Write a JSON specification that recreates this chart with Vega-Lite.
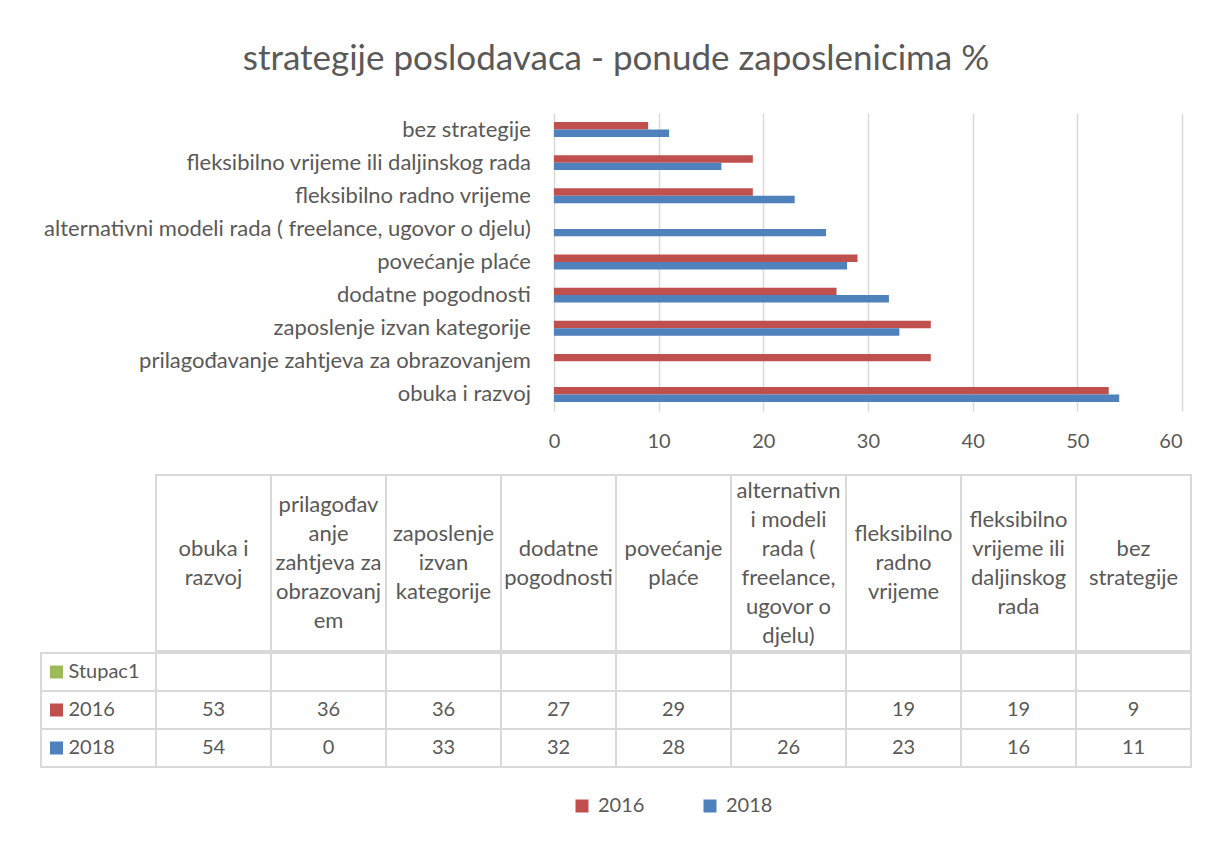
{
  "$schema": "https://vega.github.io/schema/vega-lite/v6.json",
  "padding": {"left": 40, "top": 42, "right": 19, "bottom": 40},
  "background": "white",
  "config": {"view": {"stroke": null}, "font": "Lato"},
  "title": {"text": "strategije poslodavaca - ponude zaposlenicima  %", "fontSize": 35, "font": "Lato", "fontWeight": "normal", "color": "#595959", "anchor": "middle", "offset": 36},
  "datasets": {
    "main": [
      {"cat": "obuka i razvoj", "year": "2016", "value": 53},
      {"cat": "obuka i razvoj", "year": "2018", "value": 54},
      {"cat": "obuka i razvoj", "year": "Stupac1", "value": null},
      {"cat": "prilagođavanje zahtjeva za obrazovanjem", "year": "2016", "value": 36},
      {"cat": "prilagođavanje zahtjeva za obrazovanjem", "year": "2018", "value": 0},
      {"cat": "prilagođavanje zahtjeva za obrazovanjem", "year": "Stupac1", "value": null},
      {"cat": "zaposlenje izvan kategorije", "year": "2016", "value": 36},
      {"cat": "zaposlenje izvan kategorije", "year": "2018", "value": 33},
      {"cat": "zaposlenje izvan kategorije", "year": "Stupac1", "value": null},
      {"cat": "dodatne pogodnosti", "year": "2016", "value": 27},
      {"cat": "dodatne pogodnosti", "year": "2018", "value": 32},
      {"cat": "dodatne pogodnosti", "year": "Stupac1", "value": null},
      {"cat": "povećanje plaće", "year": "2016", "value": 29},
      {"cat": "povećanje plaće", "year": "2018", "value": 28},
      {"cat": "povećanje plaće", "year": "Stupac1", "value": null},
      {"cat": "alternativni modeli rada ( freelance, ugovor o djelu)", "year": "2016", "value": null},
      {"cat": "alternativni modeli rada ( freelance, ugovor o djelu)", "year": "2018", "value": 26},
      {"cat": "alternativni modeli rada ( freelance, ugovor o djelu)", "year": "Stupac1", "value": null},
      {"cat": "fleksibilno radno vrijeme", "year": "2016", "value": 19},
      {"cat": "fleksibilno radno vrijeme", "year": "2018", "value": 23},
      {"cat": "fleksibilno radno vrijeme", "year": "Stupac1", "value": null},
      {"cat": "fleksibilno vrijeme ili daljinskog rada", "year": "2016", "value": 19},
      {"cat": "fleksibilno vrijeme ili daljinskog rada", "year": "2018", "value": 16},
      {"cat": "fleksibilno vrijeme ili daljinskog rada", "year": "Stupac1", "value": null},
      {"cat": "bez strategije", "year": "2016", "value": 9},
      {"cat": "bez strategije", "year": "2018", "value": 11},
      {"cat": "bez strategije", "year": "Stupac1", "value": null}
    ],
    "headers": [
      {"cat": "obuka i razvoj", "head": "obuka i\nrazvoj"},
      {"cat": "prilagođavanje zahtjeva za obrazovanjem", "head": "prilagođav\nanje\nzahtjeva za\nobrazovanj\nem"},
      {"cat": "zaposlenje izvan kategorije", "head": "zaposlenje\nizvan\nkategorije"},
      {"cat": "dodatne pogodnosti", "head": "dodatne\npogodnosti"},
      {"cat": "povećanje plaće", "head": "povećanje\nplaće"},
      {"cat": "alternativni modeli rada ( freelance, ugovor o djelu)", "head": "alternativn\ni modeli\nrada (\nfreelance,\nugovor o\ndjelu)"},
      {"cat": "fleksibilno radno vrijeme", "head": "fleksibilno\nradno\nvrijeme"},
      {"cat": "fleksibilno vrijeme ili daljinskog rada", "head": "fleksibilno\nvrijeme ili\ndaljinskog\nrada"},
      {"cat": "bez strategije", "head": "bez\nstrategije"}
    ]
  },
  "spacing": 23,
  "vconcat": [
    {
      "width": 1141,
      "height": 298,
      "encoding": {
        "y": {
          "field": "cat", "type": "nominal",
          "sort": ["bez strategije", "fleksibilno vrijeme ili daljinskog rada", "fleksibilno radno vrijeme", "alternativni modeli rada ( freelance, ugovor o djelu)", "povećanje plaće", "dodatne pogodnosti", "zaposlenje izvan kategorije", "prilagođavanje zahtjeva za obrazovanjem", "obuka i razvoj"],
          "scale": {"paddingInner": 0.55, "paddingOuter": 0.275},
          "axis": null
        }
      },
      "layer": [
        {
          "data": {"name": "main"},
          "transform": [{"filter": "datum.year !== 'Stupac1'"}],
          "mark": {"type": "bar"},
          "encoding": {
            "x": {
              "field": "value", "type": "quantitative",
              "scale": {"domain": [-49, 60], "nice": false, "zero": false},
              "axis": {"title": null, "domain": false, "ticks": false, "values": [0, 10, 20, 30, 40, 50, 60], "gridColor": "#d9d9d9", "gridWidth": 1.5, "labelFontSize": 20, "labelColor": "#595959", "labelPadding": 20}
            },
            "yOffset": {"field": "year", "type": "nominal", "sort": ["2016", "2018"]},
            "color": {
              "field": "year", "type": "nominal",
              "scale": {"domain": ["2016", "2018"], "range": ["#C0504D", "#4F81BD"]},
              "legend": {"orient": "none", "legendX": 531, "legendY": 683, "direction": "horizontal", "title": null, "symbolType": "square", "symbolSize": 169, "symbolStrokeWidth": 0, "labelFontSize": 20, "labelColor": "#595959", "labelFont": "Lato", "labelOffset": 6, "columnPadding": 55}
            }
          }
        },
        {
          "data": {"name": "headers"},
          "mark": {"type": "text", "fontSize": 22, "color": "#595959", "align": "right", "baseline": "middle", "dx": -23},
          "encoding": {
            "x": {"datum": 0, "type": "quantitative"},
            "text": {"field": "cat", "type": "nominal"}
          }
        }
      ]
    },
    {
      "spacing": 0,
      "vconcat": [
        {
          "data": {"name": "headers"},
          "width": 1150,
          "height": 176,
          "layer": [
            {
              "mark": {"type": "rect", "fill": "white", "stroke": "#d9d9d9", "strokeWidth": 2},
              "encoding": {
                "x": {"field": "cat", "type": "nominal", "scale": {"domain": ["lbl", "obuka i razvoj", "prilagođavanje zahtjeva za obrazovanjem", "zaposlenje izvan kategorije", "dodatne pogodnosti", "povećanje plaće", "alternativni modeli rada ( freelance, ugovor o djelu)", "fleksibilno radno vrijeme", "fleksibilno vrijeme ili daljinskog rada", "bez strategije"], "paddingInner": 0, "paddingOuter": 0}, "axis": null}
              }
            },
            {
              "transform": [{"calculate": "length(split(datum.head, '\\n'))", "as": "nlines"}],
              "mark": {"type": "text", "fontSize": 22, "color": "#595959", "lineBreak": "\n", "lineHeight": 29, "baseline": "middle"},
              "encoding": {
                "x": {"field": "cat", "type": "nominal", "axis": null},
                "y": {"field": "nlines", "type": "quantitative", "scale": {"domain": [-5.069, 7.069], "nice": false, "zero": false}, "axis": null},
                "text": {"field": "head", "type": "nominal"}
              }
            }
          ]
        },
        {
          "data": {"name": "main"},
          "width": 1150,
          "height": 114,
          "layer": [
            {
              "mark": {"type": "rect", "fill": "white", "stroke": "#d9d9d9", "strokeWidth": 2},
              "encoding": {
                "x": {"field": "cat", "type": "nominal", "scale": {"domain": ["lbl", "obuka i razvoj", "prilagođavanje zahtjeva za obrazovanjem", "zaposlenje izvan kategorije", "dodatne pogodnosti", "povećanje plaće", "alternativni modeli rada ( freelance, ugovor o djelu)", "fleksibilno radno vrijeme", "fleksibilno vrijeme ili daljinskog rada", "bez strategije"], "paddingInner": 0, "paddingOuter": 0}, "axis": null},
                "y": {"field": "year", "type": "nominal", "scale": {"domain": ["Stupac1", "2016", "2018"], "paddingInner": 0, "paddingOuter": 0}, "axis": null}
              }
            },
            {
              "transform": [{"filter": "isValid(datum.value)"}],
              "mark": {"type": "text", "fontSize": 20, "color": "#595959"},
              "encoding": {
                "x": {"field": "cat", "type": "nominal", "axis": null},
                "y": {"field": "year", "type": "nominal", "axis": null},
                "text": {"field": "value", "type": "quantitative"}
              }
            },
            {
              "transform": [{"aggregate": [{"op": "count", "as": "n"}], "groupby": ["year"]}],
              "mark": {"type": "rect", "fill": "white", "stroke": "#d9d9d9", "strokeWidth": 2},
              "encoding": {
                "x": {"datum": "lbl", "type": "nominal", "axis": null},
                "y": {"field": "year", "type": "nominal", "axis": null}
              }
            },
            {
              "transform": [{"aggregate": [{"op": "count", "as": "n"}], "groupby": ["year"]}],
              "mark": {"type": "point", "shape": "square", "filled": true, "opacity": 1, "size": 169, "xOffset": -42},
              "encoding": {
                "x": {"datum": "lbl", "type": "nominal", "axis": null},
                "y": {"field": "year", "type": "nominal", "axis": null},
                "fill": {"field": "year", "type": "nominal", "scale": {"domain": ["Stupac1", "2016", "2018"], "range": ["#9BBB59", "#C0504D", "#4F81BD"]}, "legend": null}
              }
            },
            {
              "transform": [{"aggregate": [{"op": "count", "as": "n"}], "groupby": ["year"]}],
              "mark": {"type": "text", "fontSize": 20, "color": "#595959", "align": "left", "dx": -30},
              "encoding": {
                "x": {"datum": "lbl", "type": "nominal", "axis": null},
                "y": {"field": "year", "type": "nominal", "axis": null},
                "text": {"field": "year", "type": "nominal"}
              }
            }
          ]
        }
      ]
    }
  ]
}
